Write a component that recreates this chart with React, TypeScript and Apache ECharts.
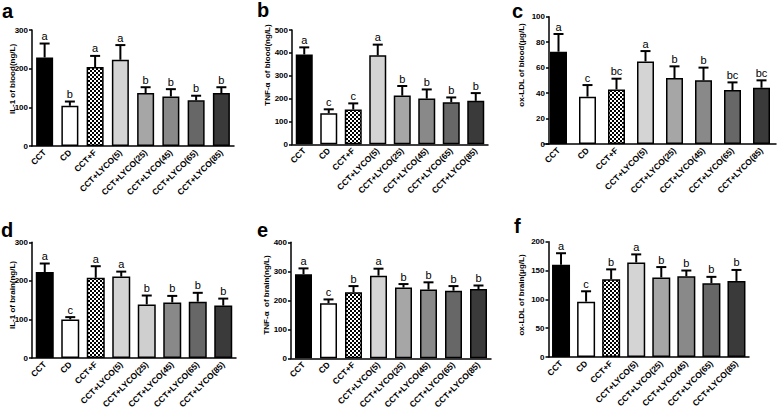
import React, { useEffect, useRef } from 'react';
import * as echarts from 'echarts';

const CATEGORIES = ['CCT', 'CD', 'CCT+F', 'CCT+LYCO(5)', 'CCT+LYCO(25)', 'CCT+LYCO(45)', 'CCT+LYCO(65)', 'CCT+LYCO(85)'];

// a: IL-1 of blood
const IL1_BLOOD = [229, 104, 204, 223, 137, 128, 118, 137];
const IL1_BLOOD_SD = [36, 11, 29, 38, 15, 19, 12, 15];
const IL1_BLOOD_SIG = ['a', 'b', 'a', 'a', 'b', 'b', 'b', 'b'];
// b: TNF-α of blood
const TNF_BLOOD = [393, 136, 152, 389, 213, 200, 184, 190];
const TNF_BLOOD_SD = [31, 17, 27, 47, 42, 40, 21, 34];
const TNF_BLOOD_SIG = ['a', 'c', 'c', 'a', 'b', 'b', 'b', 'b'];
// c: ox-LDL of blood
const OXLDL_BLOOD = [72.5, 37.2, 42.9, 64.9, 51.8, 50, 42.4, 44.2];
const OXLDL_BLOOD_SD = [13.9, 9.1, 8.4, 8.1, 9.2, 10, 6, 5.8];
const OXLDL_BLOOD_SIG = ['a', 'c', 'bc', 'a', 'b', 'b', 'bc', 'bc'];
// d: IL-1 of brain
const IL1_BRAIN = [223, 100, 208, 211, 139, 144, 146, 136];
const IL1_BRAIN_SD = [22, 6, 30, 13, 23, 17, 23, 18];
const IL1_BRAIN_SIG = ['a', 'c', 'a', 'a', 'b', 'b', 'b', 'b'];
// e: TNF-α of brain
const TNF_BRAIN = [290, 190, 228, 285, 244, 237, 233, 239];
const TNF_BRAIN_SD = [20, 13, 21, 24, 12, 25, 16, 12];
const TNF_BRAIN_SIG = ['a', 'c', 'b', 'a', 'b', 'b', 'b', 'b'];
// f: ox-LDL of brain
const OXLDL_BRAIN = [160, 96, 135, 164, 138, 140, 128, 132];
const OXLDL_BRAIN_SD = [20, 18, 17, 14, 18, 10, 11, 19];
const OXLDL_BRAIN_SIG = ['a', 'c', 'b', 'a', 'b', 'b', 'b', 'b'];

const PANEL_LETTERS = ['a', 'b', 'c', 'd', 'e', 'f'];
const Y_TITLES = [
  'IL-1 of blood(ng/L)',
  'TNF-α  of blood(ng/L)',
  'ox-LDL of blood(μg/L)',
  'IL-1 of brain(ng/L)',
  'TNF-α  of brain(ng/L)',
  'ox-LDL of brain(μg/L)',
];
const Y_MAX = [300, 500, 100, 300, 400, 200];
const Y_INTERVAL = [100, 100, 20, 100, 100, 50];

const PANELS = [
  { mean: IL1_BLOOD, sd: IL1_BLOOD_SD, sig: IL1_BLOOD_SIG },
  { mean: TNF_BLOOD, sd: TNF_BLOOD_SD, sig: TNF_BLOOD_SIG },
  { mean: OXLDL_BLOOD, sd: OXLDL_BLOOD_SD, sig: OXLDL_BLOOD_SIG },
  { mean: IL1_BRAIN, sd: IL1_BRAIN_SD, sig: IL1_BRAIN_SIG },
  { mean: TNF_BRAIN, sd: TNF_BRAIN_SD, sig: TNF_BRAIN_SIG },
  { mean: OXLDL_BRAIN, sd: OXLDL_BRAIN_SD, sig: OXLDL_BRAIN_SIG },
];

// layout (pixels); lx/ly = panel letter left / vertical centre
const LAYOUT = [
  { left: 32, top: 30, width: 202, height: 116, barWidth: 17, yOffset: 0, lx: 2, ly: 11.4, tx: 12.5, ty: 79 },
  { left: 292, top: 30, width: 196, height: 114.3, barWidth: 17, yOffset: 0, lx: 257, ly: 10.1, tx: 267.5, ty: 65 },
  { left: 544, top: 16.7, width: 232, height: 127.3, barWidth: 17, yOffset: -5, lx: 512, ly: 11.1, tx: 521, ty: 65 },
  { left: 32, top: 242.3, width: 204, height: 115.7, barWidth: 18, yOffset: 0, lx: 1, ly: 229.8, tx: 12.5, ty: 295 },
  { left: 291, top: 242.3, width: 200, height: 116, barWidth: 17, yOffset: 0, lx: 257, ly: 229.8, tx: 266.5, ty: 295 },
  { left: 548.5, top: 241.7, width: 200.5, height: 115.3, barWidth: 18, yOffset: 0, lx: 514, ly: 226.1, tx: 521, ty: 295 },
];

const BAR_COLORS = ['#000000', '#ffffff', 'pattern', '#d4d4d4', '#a6a6a6', '#898989', '#676767', '#3a3a3a'];
const FONT = '"Liberation Sans", Arial, Helvetica, sans-serif';

function makeChecker(): HTMLCanvasElement {
  const c = document.createElement('canvas');
  c.width = 4;
  c.height = 4;
  const ctx = c.getContext('2d')!;
  ctx.fillStyle = '#ffffff';
  ctx.fillRect(0, 0, 4, 4);
  ctx.fillStyle = '#000000';
  ctx.fillRect(0, 0, 2, 2);
  ctx.fillRect(2, 2, 2, 2);
  return c;
}

export default function App() {
  const ref = useRef<HTMLDivElement>(null);

  useEffect(() => {
    if (!ref.current) return;
    const chart = echarts.init(ref.current, undefined, { renderer: 'svg', width: 778, height: 416 });
    const checker = makeChecker();

    const grid: any[] = [];
    const xAxis: any[] = [];
    const yAxis: any[] = [];
    const series: any[] = [];
    const graphic: any[] = [];

    PANELS.forEach((p, k) => {
      const L = LAYOUT[k];
      grid.push({ left: L.left, top: L.top, width: L.width, height: L.height, containLabel: false });
      xAxis.push({
        type: 'category',
        gridIndex: k,
        data: CATEGORIES,
        boundaryGap: true,
        axisLine: { lineStyle: { color: '#000', width: 1.5 } },
        axisTick: { alignWithLabel: true, length: 4, lineStyle: { color: '#000', width: 1.5 } },
        axisLabel: {
          rotate: 45,
          interval: 0,
          margin: 5,
          color: '#000',
          fontSize: 8.5,
          fontWeight: 'bold',
          fontFamily: FONT,
        },
      });
      yAxis.push({
        type: 'value',
        gridIndex: k,
        min: 0,
        max: Y_MAX[k],
        interval: Y_INTERVAL[k],
        offset: L.yOffset,
        axisLine: { show: true, lineStyle: { color: '#000', width: 1.5 } },
        axisTick: { show: true, length: 3, lineStyle: { color: '#000', width: 1.5 } },
        splitLine: { show: false },
        axisLabel: { margin: 4, color: '#000', fontSize: 8, fontWeight: 'bold', fontFamily: FONT },
      });
      series.push({
        type: 'bar',
        xAxisIndex: k,
        yAxisIndex: k,
        barWidth: L.barWidth,
        data: p.mean.map((v, i) => ({
          value: v,
          itemStyle: {
            color:
              BAR_COLORS[i] === 'pattern'
                ? { image: checker, repeat: 'repeat' }
                : k === 3 && i === 4
                ? '#cfcfcf'
                : BAR_COLORS[i],
          },
        })),
        itemStyle: { borderColor: '#000', borderWidth: 1.5 },
      });
      series.push({
        type: 'custom',
        xAxisIndex: k,
        yAxisIndex: k,
        z: 5,
        clip: false,
        data: p.mean.map((v, i) => [i, v, p.sd[i]]),
        renderItem: (params: any, api: any) => {
          const i = api.value(0);
          const v = api.value(1);
          const s = api.value(2);
          const base = api.coord([i, v]);
          const top = api.coord([i, v + s]);
          const x = base[0];
          return {
            type: 'group',
            children: [
              { type: 'line', shape: { x1: x, y1: base[1], x2: x, y2: top[1] }, style: { stroke: '#000', lineWidth: 2 } },
              { type: 'line', shape: { x1: x - 5, y1: top[1], x2: x + 5, y2: top[1] }, style: { stroke: '#000', lineWidth: 2 } },
              {
                type: 'text',
                x: x,
                y: top[1] - 2,
                style: {
                  text: p.sig[params.dataIndex],
                  fill: '#000',
                  fontSize: 11,
                  fontFamily: FONT,
                  align: 'center',
                  verticalAlign: 'bottom',
                },
              },
            ],
          };
        },
      });
      graphic.push({
        type: 'text',
        x: L.lx,
        y: L.ly,
        style: {
          text: PANEL_LETTERS[k],
          fill: '#000',
          font: `bold 20px ${FONT}`,
          align: 'left',
          textAlign: 'left',
          verticalAlign: 'middle',
          textVerticalAlign: 'middle',
        },
      });
      graphic.push({
        type: 'text',
        x: L.tx,
        y: L.ty,
        rotation: Math.PI / 2,
        style: {
          text: Y_TITLES[k],
          fill: '#000',
          font: `bold 8px ${FONT}`,
          align: 'center',
          textAlign: 'center',
          verticalAlign: 'middle',
          textVerticalAlign: 'middle',
        },
      });
    });

    chart.setOption({
      animation: false,
      backgroundColor: '#ffffff',
      grid,
      xAxis,
      yAxis,
      series,
      graphic,
    });

    return () => chart.dispose();
  }, []);

  return (
    <div
      ref={ref}
      style={{ position: 'absolute', left: 0, top: 0, width: 778, height: 416, background: '#fff' }}
    />
  );
}
